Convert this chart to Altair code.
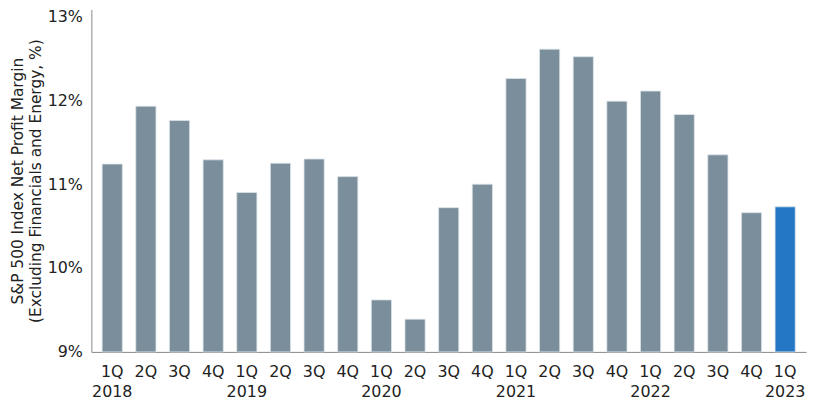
import altair as alt
import pandas as pd

quarters = ["1Q", "2Q", "3Q", "4Q"] * 5 + ["1Q"]
years = [2018] * 4 + [2019] * 4 + [2020] * 4 + [2021] * 4 + [2022] * 4 + [2023]
margins = [11.24, 11.93, 11.76, 11.29, 10.90, 11.25, 11.30, 11.09, 9.62, 9.39, 10.72, 11.00,
           12.26, 12.61, 12.52, 11.99, 12.11, 11.83, 11.35, 10.66, 10.73]
highlight = [False] * 20 + [True]

df = pd.DataFrame({
    "period": [f"{q} {y}" for q, y in zip(quarters, years)],
    "margin": margins,
    "latest": highlight,
})

FONT = "DejaVu Sans"

chart = alt.Chart(df).mark_bar(stroke="#dde4ea", strokeWidth=0.8).encode(
    x=alt.X("period:N", sort=None,
            scale=alt.Scale(paddingInner=0.4, paddingOuter=0.32),
            axis=alt.Axis(title=None, labelAngle=0, ticks=False, domainColor="#888888",
                          labelFont=FONT, labelFontSize=16, labelColor="#222222",
                          labelPadding=12, labelLineHeight=20,
                          labelExpr="indexof(datum.value, '1Q') == 0 ? split(datum.value, ' ') : split(datum.value, ' ')[0]")),
    y=alt.Y("margin:Q",
            scale=alt.Scale(domain=[9, 13.083], zero=False, nice=False, clamp=True),
            axis=alt.Axis(title=["S&P 500 Index Net Profit Margin", "(Excluding Financials and Energy, %)"],
                          values=[9, 10, 11, 12, 13], labelExpr="datum.value + '%'",
                          ticks=False, grid=False, domainColor="#888888",
                          labelFont=FONT, labelFontSize=16, labelColor="#222222", labelPadding=9,
                          labelOffset=0,
                          titleFont=FONT, titleFontSize=15.5, titleFontWeight="normal",
                          titleColor="#222222", titlePadding=4, titleLineHeight=18)),
    color=alt.Color("latest:N", scale=alt.Scale(domain=[False, True], range=["#7a8e9b", "#2377c4"]),
                    legend=None),
).properties(
    width=720, height=345,
    padding={"left": 84, "top": 0, "right": 2, "bottom": 50},
    autosize=alt.AutoSizeParams(type="none"),
    background="white",
).configure_view(stroke=None)

chart.save("out.html", embed_options={"renderer": "svg", "actions": False})
